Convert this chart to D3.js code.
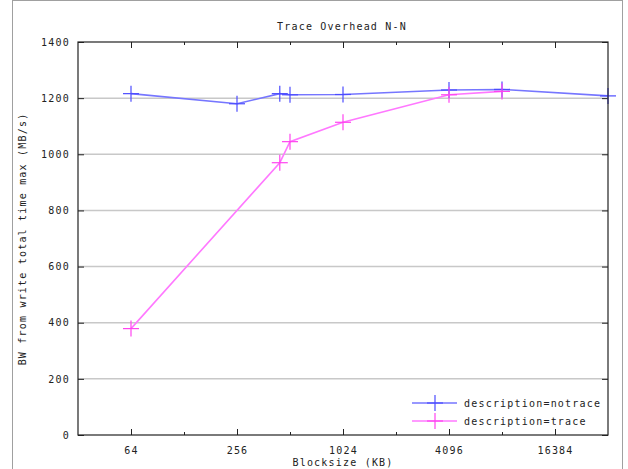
<!DOCTYPE html>
<html>
<head>
<meta charset="utf-8">
<script src="https://cdn.jsdelivr.net/npm/d3@7"></script>
<style>
  body { margin: 0; background: #fff; }
  svg text { font-family: "DejaVu Sans Mono", monospace; font-size: 10px; letter-spacing: 1.2px; fill: #222; }
</style>
</head>
<body>
<div id="chart"></div>
<script>
var w = 628, h = 469;

var titleText = "Trace Overhead N-N";
var xLabel = "Blocksize (KB)";
var yLabel = "BW from write total time max (MB/s)";

var xTicks = [64, 256, 1024, 4096, 16384];
var xMinorTicks = [128, 512, 2048, 8192];
var yTicks = [0, 200, 400, 600, 800, 1000, 1200, 1400];

var notraceSizes = [64, 256, 448, 512, 1024, 4096, 8192, 32768];
var notraceBW = [1216, 1180, 1216, 1212, 1213, 1229, 1231, 1208];

var traceSizes = [64, 448, 512, 1024, 4096, 8192];
var traceBW = [379, 970, 1045, 1114, 1212, 1224];

var seriesNames = ["description=notrace", "description=trace"];
var lineColors = ["#7676ff", "#ff78ff"];
var markColors = ["#4c4cff", "#ff44f0"];

// plot box (avoid global name "top", it belongs to window)
var pLeft = 78, pRight = 608, pTop = 42, pBottom = 435;

var xScale = d3.scaleLog().base(2)
  .domain([32, 32768])
  .range([pLeft, pRight]);

var yScale = d3.scaleLinear()
  .domain([0, 1400])
  .range([pBottom, pTop]);

var svg = d3.select("#chart")
  .append("svg")
  .attr("width", w)
  .attr("height", h);

// outer frame
svg.append("rect")
  .attr("x", 12.5).attr("y", 0.5)
  .attr("width", 610).attr("height", 490)
  .attr("fill", "none")
  .attr("stroke", "#a0a0a0");

// grid lines
svg.append("g")
  .selectAll("line")
  .data(yTicks.slice(1, -1))
  .enter().append("line")
  .attr("x1", pLeft).attr("x2", pRight)
  .attr("y1", function(d) { return yScale(d); })
  .attr("y2", function(d) { return yScale(d); })
  .attr("stroke", "#c8c8c8")
  .attr("stroke-width", 1.5);

var yAxis = d3.axisLeft(yScale).tickValues(yTicks).tickFormat(d3.format("d")).tickSizeInner(-6).tickSizeOuter(0).tickPadding(8);
var yAxisR = d3.axisRight(yScale).tickValues(yTicks).tickSizeInner(-6).tickSizeOuter(0).tickFormat("");
var xAxis = d3.axisBottom(xScale).tickValues(xTicks).tickFormat(d3.format("d")).tickSizeInner(-6).tickSizeOuter(0).tickPadding(12);
var xAxisT = d3.axisTop(xScale).tickValues(xTicks).tickFormat("").tickSizeInner(-6).tickSizeOuter(0);
var xMinor = d3.axisBottom(xScale).tickValues(xMinorTicks).tickFormat("").tickSizeInner(-3).tickSizeOuter(0);
var xMinorT = d3.axisTop(xScale).tickValues(xMinorTicks).tickFormat("").tickSizeInner(-3).tickSizeOuter(0);

function styleAxis(g) {
  g.select(".domain").remove();
  g.selectAll("line").attr("stroke", "#222");
  g.selectAll("text").attr("font-family", null).attr("font-size", null).attr("fill", "#222");
}

svg.append("g").attr("transform", "translate(" + pLeft + ",0)").call(yAxis).call(styleAxis);
svg.append("g").attr("transform", "translate(" + pRight + ",0)").call(yAxisR).call(styleAxis);
svg.append("g").attr("transform", "translate(0," + pBottom + ")").call(xAxis).call(styleAxis);
svg.append("g").attr("transform", "translate(0," + pTop + ")").call(xAxisT).call(styleAxis);
svg.append("g").attr("transform", "translate(0," + pBottom + ")").call(xMinor).call(styleAxis);
svg.append("g").attr("transform", "translate(0," + pTop + ")").call(xMinorT).call(styleAxis);

// series
var series = [
  { name: seriesNames[0], pts: notraceSizes.map(function(s, i) { return [s, notraceBW[i]]; }) },
  { name: seriesNames[1], pts: traceSizes.map(function(s, i) { return [s, traceBW[i]]; }) }
];

var line = d3.line()
  .x(function(d) { return xScale(d[0]); })
  .y(function(d) { return yScale(d[1]); });

function cross(g, x, y, color) {
  g.append("line").attr("x1", x - 8).attr("x2", x + 8).attr("y1", y).attr("y2", y)
    .attr("stroke", color).attr("stroke-width", 1.2);
  g.append("line").attr("x1", x).attr("x2", x).attr("y1", y - 8).attr("y2", y + 8)
    .attr("stroke", color).attr("stroke-width", 1.2);
}

series.forEach(function(s, i) {
  svg.append("path")
    .datum(s.pts)
    .attr("fill", "none")
    .attr("stroke", lineColors[i])
    .attr("stroke-width", 1.6)
    .attr("d", line);
  var g = svg.append("g");
  s.pts.forEach(function(p) {
    cross(g, xScale(p[0]), yScale(p[1]), markColors[i]);
  });
});

// border
svg.append("rect")
  .attr("x", pLeft).attr("y", pTop)
  .attr("width", pRight - pLeft).attr("height", pBottom - pTop)
  .attr("fill", "none")
  .attr("stroke", "#222")
  .attr("stroke-width", 1.2);

// legend
var legend = svg.append("g");
series.forEach(function(s, i) {
  var ly = 403 + i * 18;
  legend.append("line")
    .attr("x1", 412).attr("x2", 457).attr("y1", ly).attr("y2", ly)
    .attr("stroke", lineColors[i]).attr("stroke-width", 1.6);
  cross(legend, 435, ly, markColors[i]);
  legend.append("text")
    .attr("x", 464).attr("y", ly + 3.5)
    .text(s.name);
});

// titles
svg.append("text")
  .attr("x", 342).attr("y", 30)
  .attr("text-anchor", "middle")
  .text(titleText);

svg.append("text")
  .attr("x", 343).attr("y", 466)
  .attr("text-anchor", "middle")
  .text(xLabel);

svg.append("text")
  .attr("transform", "translate(26,239) rotate(-90)")
  .attr("text-anchor", "middle")
  .text(yLabel);
</script>
</body>
</html>
